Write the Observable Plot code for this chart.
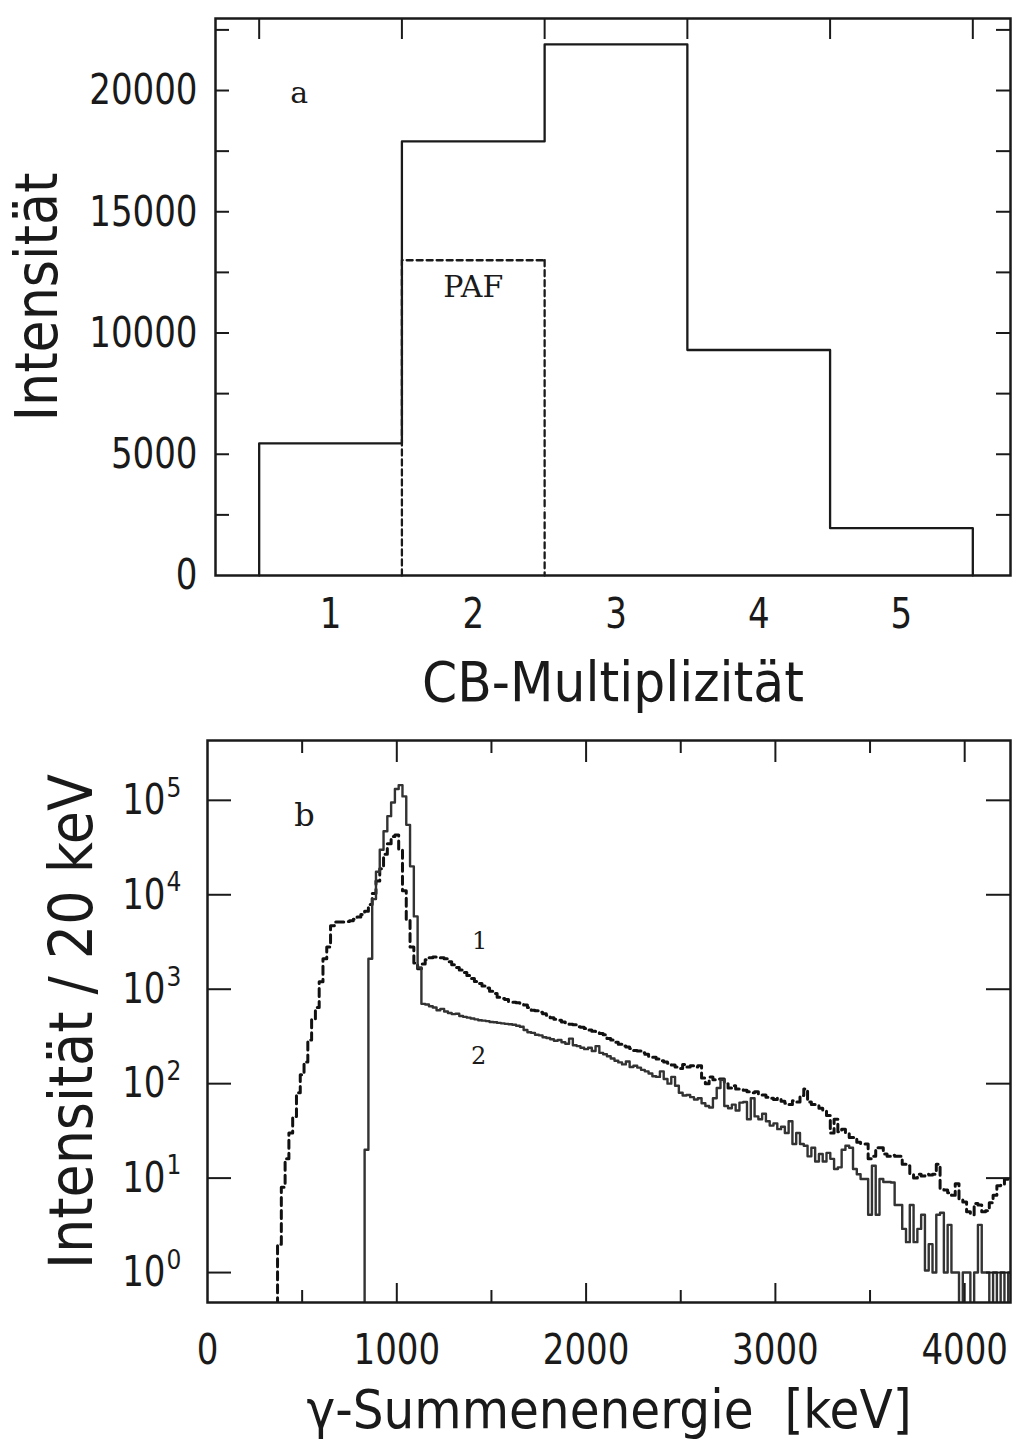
<!DOCTYPE html>
<html><head><meta charset="utf-8">
<script src="https://cdn.jsdelivr.net/npm/d3@7"></script>
<script src="https://cdn.jsdelivr.net/npm/@observablehq/plot@0.6"></script>
<style>
body{margin:0;background:#fff;}
#chart{width:1014px;}
#chart svg{display:block;}
</style></head><body><div id="chart"></div>
<script>
// ---------- Panel a data ----------
const multiplicity = [1, 2, 3, 4, 5];
const intensityAll = [5450, 17900, 21900, 9300, 1950];
const pafMultiplicity = [2];
const pafIntensity = [13000];
const yTickLabelsA = [0, 5000, 10000, 15000, 20000];
const yTickMarksA = [2500, 5000, 7500, 10000, 12500, 15000, 17500, 20000, 22500];
const topTickMarksA = [0.5, 1.5, 2.5, 3.5, 4.5, 5.5];
const annotationsA = [{x: 0.78, y: 19900, text: "a"}, {x: 2.0, y: 11900, text: "PAF"}];

// ---------- Panel b data (20 keV bins, left edges start + 20*i) ----------
const binWidth = 20;
const start1 = 350; // spectrum 1 (dashed)
const counts1 = [
  0.1, 2, 8, 16, 30, 45, 80, 124, 170, 290,
  480, 640, 1200, 2100, 2800, 4700, 5150, 5150, 5150, 5200,
  5300, 5500, 5800, 6200, 6700, 7900, 10300, 14000, 18900, 26800,
  34800, 41300, 43000, 30000, 11000, 5500, 2800, 1900, 1650, 1850,
  2050, 2150, 2200, 2200, 2150,
  2100, 1950, 1820, 1700, 1600, 1500, 1400, 1300, 1210, 1150,
  1080, 1030, 950, 900, 820, 800, 780, 740, 730, 720,
  700, 680, 640, 600, 590, 570, 550, 530, 500, 480,
  470, 450, 440, 425, 420, 400, 395, 385, 370, 360,
  350, 340, 330, 300, 290, 275, 262, 250, 245, 235,
  225, 222, 212, 205, 195, 190, 182, 175, 170, 165,
  158, 150, 145, 160, 150, 155, 150, 155, 115, 100,
  118, 110, 112, 112, 100, 90, 95, 88, 88, 85,
  82, 80, 82, 78, 76, 72, 70, 68, 70, 65,
  62, 60, 66, 64, 75, 88, 64, 60, 59, 55,
  52, 46, 30, 42, 31, 33, 30, 27, 27, 24,
  23, 23, 16, 17, 21, 21, 18, 17, 17.5, 17,
  17, 14, 13.5, 11, 10, 11, 10.5, 11, 10.8, 11,
  14, 7.8, 7.5, 7, 6.6, 8.7, 6, 5.6, 4.4, 4.1,
  5.4, 5.2, 4.4, 4.5, 5.5, 6.6, 8.3, 8.4, 9.7, 9.4
];
const start2 = 810; // spectrum 2 (solid)
const counts2 = [
  0.1, 20, 2100, 9000, 17500, 30000, 47000, 68000, 95000, 132000,
  145000, 110000, 55000, 20000, 5900, 1700, 700,
  690, 660, 640, 600, 620, 580, 560, 545, 550, 520,
  510, 500, 490, 480, 470, 465, 460, 450, 447, 440,
  435, 430, 425, 420, 410, 400, 370, 350, 345, 330,
  325, 310, 305, 295, 285, 290, 275, 265, 300, 255,
  250, 240, 232, 240, 222, 250, 212, 205, 195, 185,
  175, 168, 160, 172, 150, 155, 148, 140, 135, 128,
  120, 118, 135, 112, 100, 118, 95, 80, 75, 76,
  72, 68, 70, 62, 58, 56, 70, 90, 110, 58,
  55, 60, 52, 63, 64, 42, 70, 45, 42, 48,
  40, 36, 38, 33, 35, 30, 40, 23, 30, 23,
  22, 17, 21, 15, 18, 15, 18.5, 16, 12.5, 13,
  20, 22, 21, 12.5, 11, 9.8, 9.8, 4.1, 13.5, 4.1,
  9.8, 9.1, 9.1, 9, 5.2, 5.2, 2.9, 2.1, 5.2, 2.1,
  2.9, 4.1, 1.05, 2, 1, 4.1, 4.3, 1, 3.2, 1,
  1, 0.1, 1, 1, 0.1, 1, 3.2, 1, 1, 0.1,
  1, 0.1, 1, 0.1, 1
];
const decades = [1, 10, 100, 1000, 10000, 100000];
const xTickLabelsB = [0, 1000, 2000, 3000, 4000];
const majorTicksB = [1000, 2000, 3000, 4000];
const minorTicksB = [500, 1500, 2500, 3500];
const panelLabelB = [{x: 512, y: 68600, text: "b"}];
const curveLabelsB = [{x: 1437, y: 3200, text: "1"}, {x: 1432, y: 195, text: "2"}];

// ---------- helpers ----------
const SANS = "'DejaVu Sans Condensed', 'DejaVu Sans', sans-serif";
const SERIF = "'DejaVu Serif', 'Liberation Serif', serif";
const INK = "#1a1a1a";
function stepPoints(start, counts) {
  const pts = counts.map((c, i) => ({e: start + i * binWidth, c}));
  pts.push({e: start + counts.length * binWidth, c: counts[counts.length - 1]});
  return pts;
}
const exponent = d => String(Math.round(Math.log10(d)));

// histogram outline for panel a
const outlineA = [{x: multiplicity[0] - 0.5, y: 0}];
multiplicity.forEach((m, i) => outlineA.push({x: m - 0.5, y: intensityAll[i]}));
outlineA.push({x: multiplicity[multiplicity.length - 1] + 0.5, y: intensityAll[intensityAll.length - 1]});
outlineA.push({x: multiplicity[multiplicity.length - 1] + 0.5, y: 0});
const outlinePAF = [{x: pafMultiplicity[0] - 0.5, y: 0}];
pafMultiplicity.forEach((m, i) => outlinePAF.push({x: m - 0.5, y: pafIntensity[i]}));
outlinePAF.push({x: pafMultiplicity[pafMultiplicity.length - 1] + 0.5, y: pafIntensity[pafIntensity.length - 1]});
outlinePAF.push({x: pafMultiplicity[pafMultiplicity.length - 1] + 0.5, y: 0});

// narrow the plotter-style tick digits a little (kept as real text)
function narrowTicks(svg, sx) {
  d3.select(svg)
    .selectAll('g[aria-label="y-axis tick label"] text, g[aria-label="x-axis tick label"] text, g[aria-label="exponent"] text')
    .each(function () {
      const t = this.getAttribute("transform");
      if (t && t.includes("translate")) this.setAttribute("transform", t + ` scale(${sx},1)`);
    });
}

// ---------- Panel a ----------
const WA = 1014, HA = 720, mlA = 215, mrA = 4, mtA = 18, mbA = 145;
const fwA = WA - mlA - mrA, fhA = HA - mtA - mbA;
const plotA = Plot.plot({
  width: WA, height: HA,
  marginLeft: mlA, marginRight: mrA, marginTop: mtA, marginBottom: mbA,
  x: {domain: [0.194, 5.764]},
  y: {domain: [0, 22970]},
  style: {fontFamily: SANS, color: INK, background: "white"},
  marks: [
    Plot.line(outlinePAF, {x: "x", y: "y", curve: "step-after", stroke: INK, strokeWidth: 2.3, strokeDasharray: "6,4"}),
    Plot.line(outlineA, {x: "x", y: "y", curve: "step-after", stroke: INK, strokeWidth: 2.3}),
    Plot.ruleY(yTickMarksA, {stroke: INK, strokeWidth: 2, insetRight: fwA - 14}),
    Plot.ruleY(yTickMarksA, {stroke: INK, strokeWidth: 2, insetLeft: fwA - 14}),
    Plot.ruleX(topTickMarksA, {stroke: INK, strokeWidth: 2, insetBottom: fhA - 21}),
    Plot.frame({stroke: INK, strokeWidth: 2.5}),
    Plot.axisY(yTickLabelsA, {tickSize: 0, tickPadding: 18, fontSize: 43, tickFormat: d => String(d), label: null}),
    Plot.axisX(multiplicity, {tickSize: 0, tickPadding: 22, fontSize: 43, tickFormat: d => String(d), label: null}),
    Plot.text(["Intensität"], {text: d => d, frameAnchor: "left", dx: -177, rotate: -90, textAnchor: "middle", lineAnchor: "middle", fontSize: 58, fill: INK}),
    Plot.text(["CB-Multiplizität"], {text: d => d, frameAnchor: "bottom", dy: 108, textAnchor: "middle", lineAnchor: "middle", fontSize: 56, fill: INK}),
    Plot.text(annotationsA, {x: "x", y: "y", text: "text", fontFamily: SERIF, fontSize: 30, fill: INK})
  ]
});
narrowTicks(plotA, 0.88);

// ---------- Panel b ----------
const WB = 1014, HB = 723, mlB = 207, mrB = 4, mtB = 20, mbB = 141;
const fwB = WB - mlB - mrB, fhB = HB - mtB - mbB;
const plotB = Plot.plot({
  width: WB, height: HB,
  marginLeft: mlB, marginRight: mrB, marginTop: mtB, marginBottom: mbB,
  x: {domain: [0, 4242]},
  y: {type: "log", domain: [0.482, 430000]},
  style: {fontFamily: SANS, color: INK, background: "white"},
  marks: [
    Plot.line(stepPoints(start1, counts1), {x: "e", y: "c", curve: "step-after", stroke: "#111", strokeWidth: 3, strokeDasharray: "8,5", clip: true}),
    Plot.line(stepPoints(start2, counts2), {x: "e", y: "c", curve: "step-after", stroke: "#333", strokeWidth: 2.4, clip: true}),
    Plot.ruleY(decades, {stroke: INK, strokeWidth: 2, insetRight: fwB - 24}),
    Plot.ruleY(decades, {stroke: INK, strokeWidth: 2, insetLeft: fwB - 24}),
    Plot.ruleX(majorTicksB, {stroke: INK, strokeWidth: 2, insetTop: fhB - 19}),
    Plot.ruleX(minorTicksB, {stroke: INK, strokeWidth: 2, insetTop: fhB - 12}),
    Plot.ruleX(majorTicksB, {stroke: INK, strokeWidth: 2, insetBottom: fhB - 22}),
    Plot.ruleX(minorTicksB, {stroke: INK, strokeWidth: 2, insetBottom: fhB - 13}),
    Plot.frame({stroke: INK, strokeWidth: 2.5}),
    Plot.axisY(decades, {tickSize: 0, tickPadding: 42, fontSize: 43, tickFormat: () => "10", label: null}),
    Plot.text(decades, {y: d => d, text: exponent, frameAnchor: "left", dx: -41, dy: -12, textAnchor: "start", lineAnchor: "middle", fontSize: 26, fill: INK, ariaLabel: "exponent"}),
    Plot.axisX(xTickLabelsB, {tickSize: 0, tickPadding: 31, fontSize: 43, tickFormat: d => String(d), label: null}),
    Plot.text(["Intensität / 20 keV"], {text: d => d, frameAnchor: "left", dx: -135, rotate: -90, textAnchor: "middle", lineAnchor: "middle", fontSize: 60, fill: INK}),
    Plot.text(["γ-Summenenergie  [keV]"], {text: d => d, frameAnchor: "bottom", dy: 108, textAnchor: "middle", lineAnchor: "middle", fontSize: 54, fill: INK}),
    Plot.text(panelLabelB, {x: "x", y: "y", text: "text", fontFamily: SERIF, fontSize: 32, fill: INK}),
    Plot.text(curveLabelsB, {x: "x", y: "y", text: "text", fontFamily: SERIF, fontSize: 24, fill: INK})
  ]
});
narrowTicks(plotB, 0.88);

const root = document.getElementById("chart");
root.appendChild(plotA);
root.appendChild(plotB);
</script>
</body></html>
